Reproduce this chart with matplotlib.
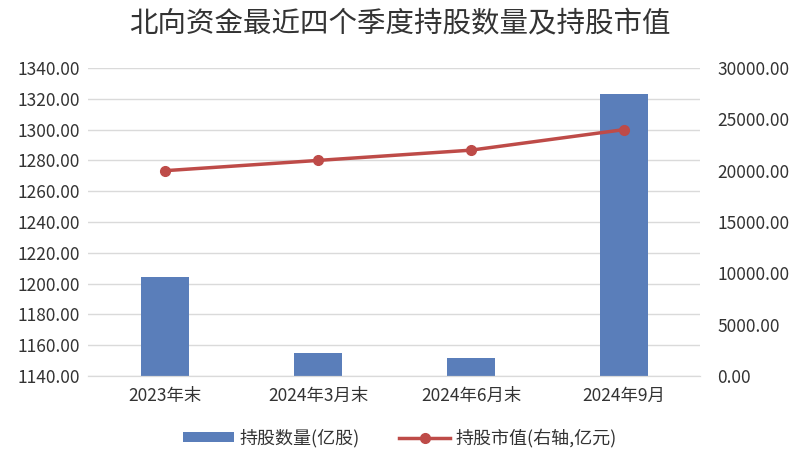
import matplotlib.pyplot as plt
from matplotlib.ticker import FormatStrFormatter
import numpy as np

plt.rcParams['font.family'] = ['Noto Sans CJK SC', 'DejaVu Sans']

# data
quarters = ['2023年末', '2024年3月末', '2024年6月末', '2024年9月']
shares = [1204, 1155, 1152, 1323]          # 持股数量(亿股)
market_value = [20000, 21000, 22000, 24000]  # 持股市值(亿元)

bar_color = '#5A7EBA'
line_color = '#BE4B48'
grid_color = '#DADADA'
text_color = '#333333'

fig = plt.figure(figsize=(8, 4.61), dpi=100)
ax = fig.add_axes([0.1106, 0.1844, 0.765, 0.668])
ax2 = ax.twinx()

x = np.arange(len(quarters))
bars = ax.bar(x, shares, width=0.31, color=bar_color, zorder=2,
              label='持股数量(亿股)')
ax.set_ylim(1140, 1340)
ax.set_yticks(np.arange(1140, 1341, 20))
ax.yaxis.set_major_formatter(FormatStrFormatter('%.2f'))
ax.set_xlim(-0.5, len(quarters) - 0.5)
ax.set_xticks(x)
ax.set_xticklabels(quarters)
ax.grid(axis='y', color=grid_color, linewidth=1, zorder=0)

line, = ax2.plot(x, market_value, color=line_color, linewidth=2.5,
                 marker='o', markersize=7, zorder=3,
                 label='持股市值(右轴,亿元)')
ax2.set_ylim(0, 30000)
ax2.set_yticks(np.arange(0, 30001, 5000))
ax2.yaxis.set_major_formatter(FormatStrFormatter('%.2f'))

for a in (ax, ax2):
    for s in ('top', 'left', 'right'):
        a.spines[s].set_visible(False)
    a.spines['bottom'].set_color(grid_color)
    a.tick_params(axis='both', length=0, labelsize=12.5, colors=text_color)
ax.tick_params(axis='y', pad=6)
ax2.tick_params(axis='y', pad=12)
ax.tick_params(axis='x', pad=8)

fig.suptitle('北向资金最近四个季度持股数量及持股市值', x=0.5, y=0.98,
             fontsize=20.5, color=text_color)

fig.legend(handles=[bars, line], loc='center', bbox_to_anchor=(0.5, 0.05),
           ncol=2, frameon=False, fontsize=13, handlelength=2.8,
           handleheight=0.5, handletextpad=0.3, columnspacing=2.2,
           labelcolor=text_color)

fig.savefig('out.png', dpi=100, facecolor='white')
